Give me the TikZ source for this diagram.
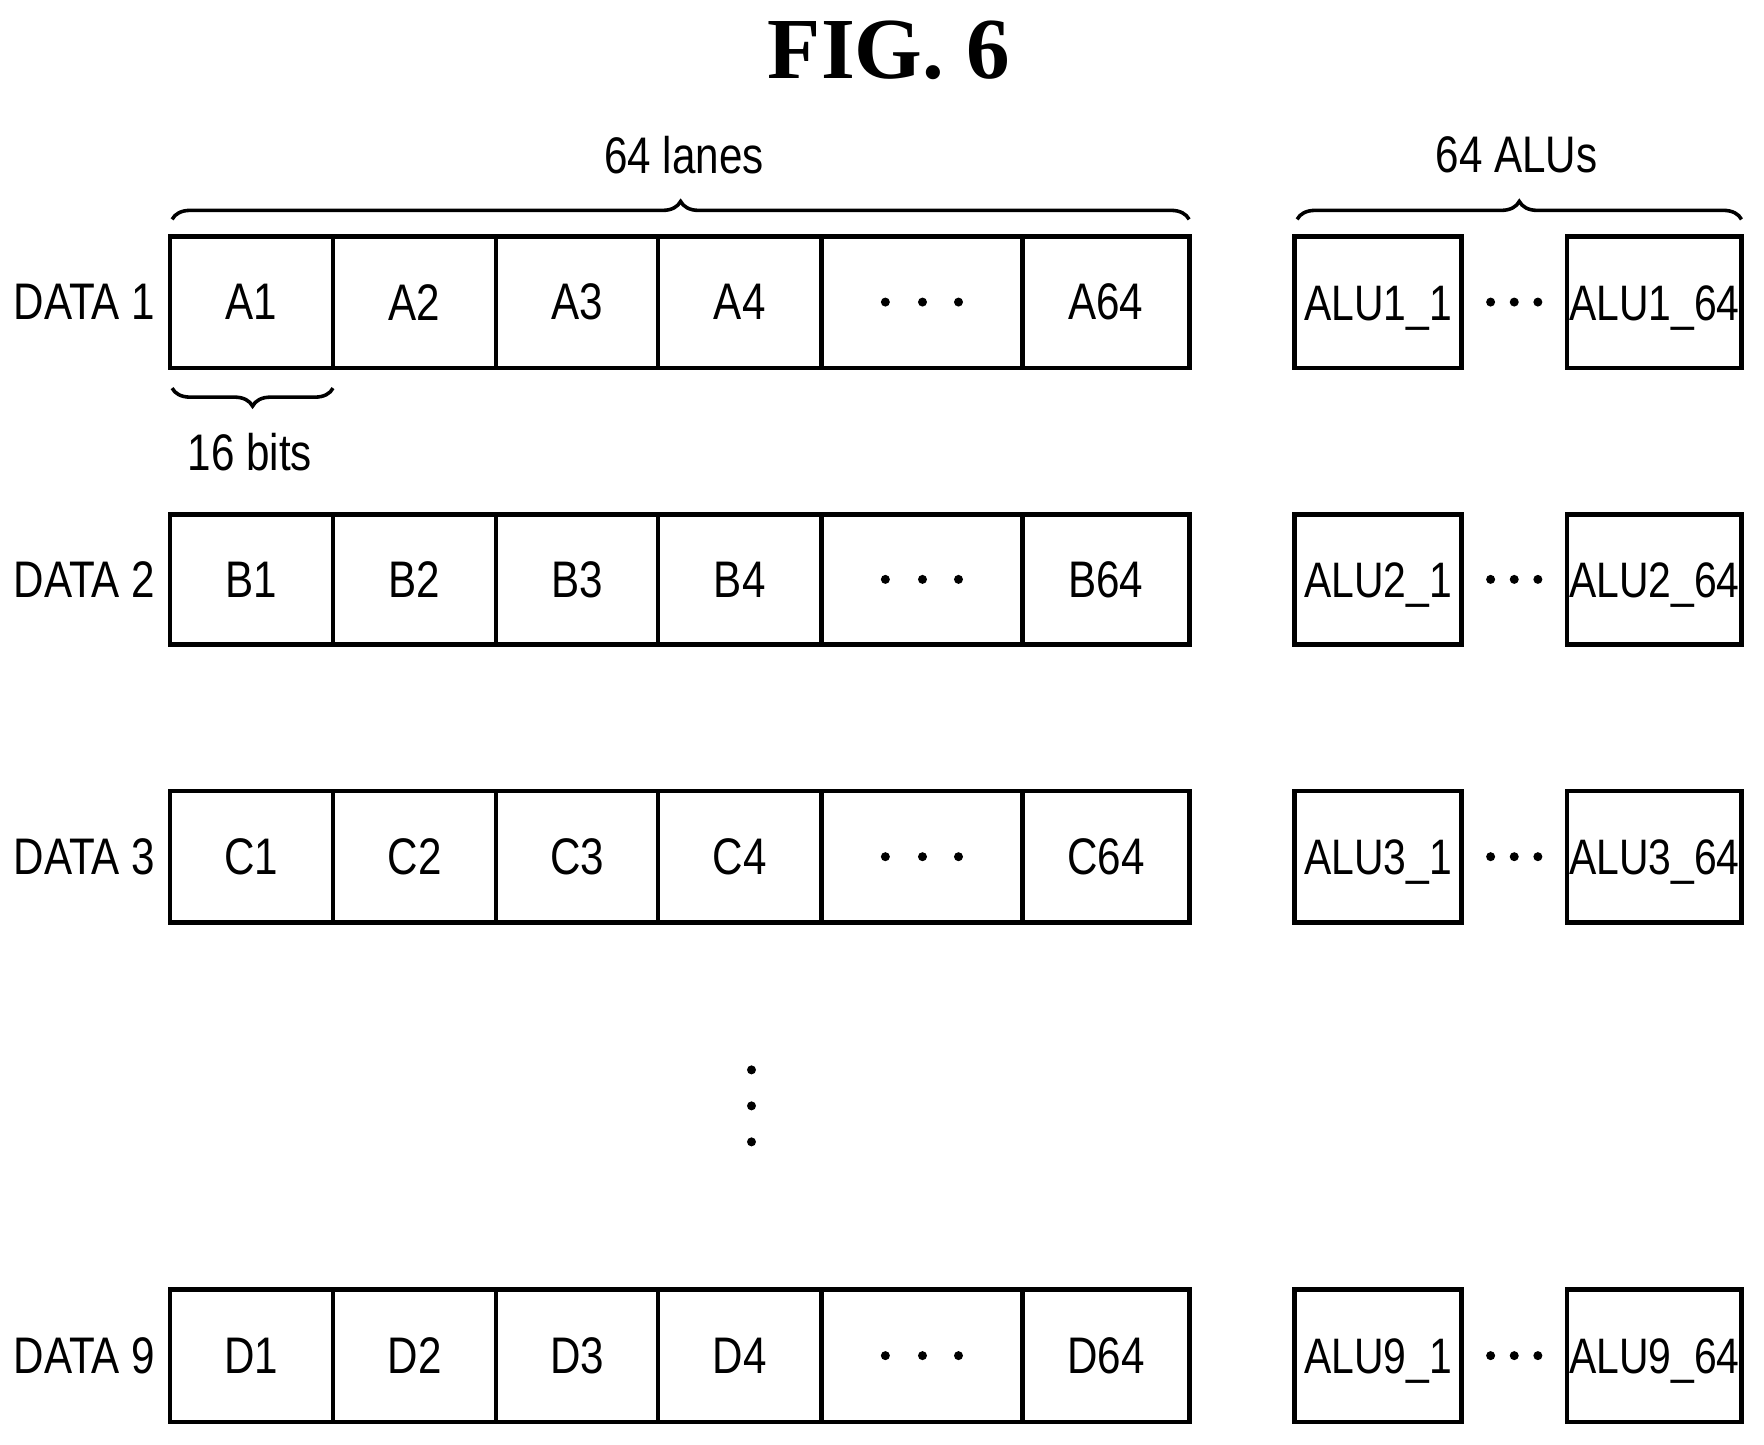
\documentclass[tikz,border=0pt]{standalone}
\usepackage{fontspec}
\setmainfont{Liberation Sans}[FakeStretch=0.82]
\newfontfamily\figfont{Liberation Serif}
\usetikzlibrary{decorations.pathreplacing}
\begin{document}
\begin{tikzpicture}[x=0.01cm,y=-0.01cm,
  cell/.style={draw,line width=1.2pt,inner sep=0pt,font=\fontsize{13}{14}\selectfont},
  lbl/.style={font=\fontsize{13}{14}\selectfont},
  alul/.style={font=\fontsize{12.6}{14}\selectfont,text depth=0pt,text height=9.2pt,inner sep=0pt},
  brc/.style={decorate,decoration={brace,amplitude=0.16cm},line width=0.9pt},
  dot/.style={fill,circle,inner sep=0pt,minimum size=0.08cm}]
\useasboundingbox (0,0) rectangle (1568,1284);
\node[font=\figfont\bfseries\fontsize{22}{26}\selectfont] (title) at (790,45) {FIG. 6};
\foreach \r/\L/\n/\ya/\yb in {1/A/1/210/327,2/B/2/457/573,3/C/3/703/820,9/D/9/1146/1264}{
  \pgfmathsetmacro\ym{(\ya+\yb)/2}
  \node[lbl] (data\r) at (75,\ym) {DATA \n};
  \foreach \k/\xa/\xb in {1/151/296,2/296/441,3/441/585,4/585/730,5/730/909,6/909/1057}{
    \node[cell,minimum width={(\xb-\xa)*0.01cm},minimum height={(\yb-\ya)*0.01cm}] (c\r-\k) at ({(\xa+\xb)/2},\ym) {};
  }
  \node[lbl] at (c\r-1) {\L1};
  \node[lbl] at (c\r-2) {\L2};
  \node[lbl] at (c\r-3) {\L3};
  \node[lbl] at (c\r-4) {\L4};
  \node[lbl] at (c\r-6) {\L64};
  \node[dot] at (787,\ym) {}; \node[dot] at (820,\ym) {}; \node[dot] at (852,\ym) {};
  \node[cell,minimum width=1.48cm,minimum height={(\yb-\ya)*0.01cm}] (alu\r a) at (1225,\ym) {};
  \node[alul] at (alu\r a) {ALU\n\_1};
  \node[cell,minimum width=1.55cm,minimum height={(\yb-\ya)*0.01cm}] (alu\r b) at (1470.5,\ym) {};
  \node[alul] at (alu\r b) {ALU\n\_64};
  \node[dot] at (1325,\ym) {}; \node[dot] at (1346,\ym) {}; \node[dot] at (1367,\ym) {};
}
\draw[brc] (153,195) -- (1057,195);
\node[lbl] (lanes) at (608,138) {64 lanes};
\draw[brc] (1153,195) -- (1548,195);
\node[lbl] (alus) at (1348,138) {64 ALUs};
\draw[brc,decoration={brace,mirror,amplitude=0.16cm}] (153,345) -- (296,345);
\node[lbl] (bits) at (222,402) {16 bits};
\node[dot] (v1) at (668,951) {};
\node[dot] (v2) at (668,983) {};
\node[dot] (v3) at (668,1015) {};
\end{tikzpicture}
\end{document}
